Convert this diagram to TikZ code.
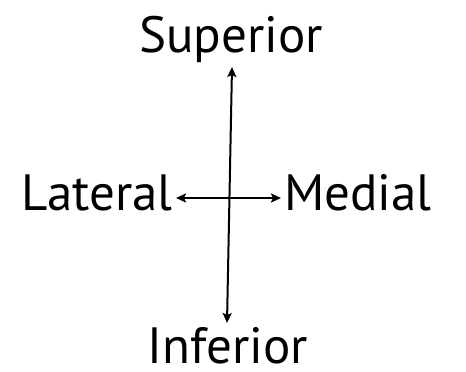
\documentclass[tikz,border=0pt]{standalone}
\usepackage{fontspec}
\setmainfont{PT Sans}
\usetikzlibrary{arrows.meta}
\begin{document}
\begin{tikzpicture}[x=1pt,y=-1pt,
  lbl/.style={inner sep=0pt,font=\fontsize{51}{51}\selectfont},
  arr/.style={line width=2pt,{Stealth[length=10pt,width=9pt,inset=2pt]}-{Stealth[length=10pt,width=9pt,inset=2pt]}}]
\useasboundingbox (0,0) rectangle (466,372);
\node[lbl,anchor=base] (sup) at (231,52) {Superior};
\node[lbl,anchor=base east] (lat) at (173,210) {Lateral};
\node[lbl,anchor=base west] (med) at (284,210) {Medial};
\node[lbl,anchor=base,text depth=0pt] (inf) at (228,363) {Inferior};
\coordinate (top) at (232,67);
\coordinate (bot) at (227,323);
\coordinate (left) at (176,198);
\coordinate (right) at (281,198);
\draw[arr] (bot) -- (top);
\draw[arr] (left) -- (right);
\end{tikzpicture}
\end{document}
